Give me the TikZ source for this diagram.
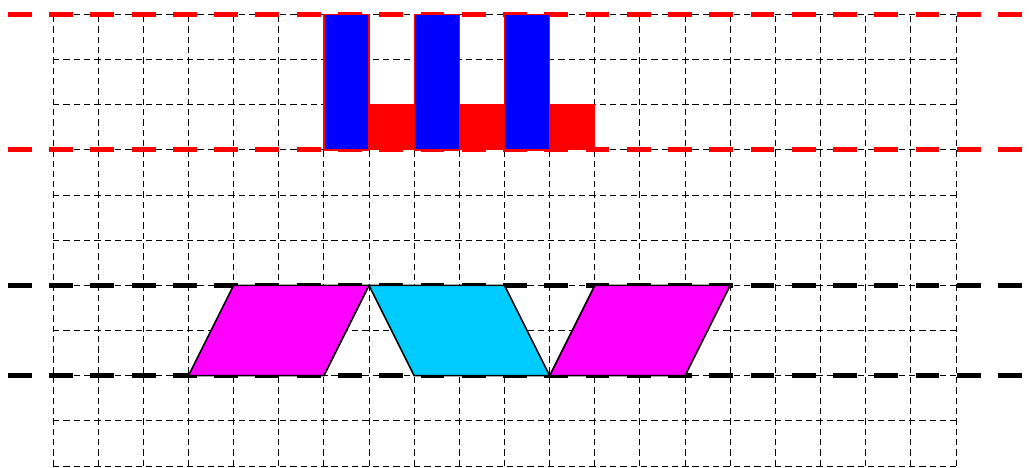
\documentclass[tikz,border=0pt]{standalone}
\definecolor{cyanish}{RGB}{0,204,255}
\definecolor{puremagenta}{RGB}{255,0,255}
\tikzset{
  gridline/.style={black, line width=0.6pt, dash pattern=on 4pt off 2.5pt},
  redline/.style={red, line width=3.2pt, dash pattern=on 15pt off 11pt, dash phase=-5pt},
  blackline/.style={black, line width=3.2pt, dash pattern=on 15pt off 11pt, dash phase=-5pt},
  bluebar/.style={fill=blue, draw=red, line width=0.8pt},
  redbar/.style={fill=red, draw=red, line width=0.6pt},
  para/.style={draw=black, line width=1pt, line join=miter}
}
\begin{document}
\begin{tikzpicture}
\useasboundingbox (-1.174,-0.044) rectangle (21.728,10.321);
% grid
\foreach \x in {0,...,20} \draw[gridline] (\x,0) -- (\x,10);
\foreach \y in {0,...,10} \draw[gridline] (0,\y) -- (20,\y);
% thick dashed lines
\coordinate (rl1) at (-1.174,10); \coordinate (rr1) at (21.728,10);
\coordinate (rl2) at (-1.174,7);  \coordinate (rr2) at (21.728,7);
\coordinate (bl1) at (-1.174,4);  \coordinate (br1) at (21.728,4);
\coordinate (bl2) at (-1.174,2);  \coordinate (br2) at (21.728,2);
\draw[redline] (rl1) -- (rr1);
\draw[redline] (rl2) -- (rr2);
\draw[blackline] (bl1) -- (br1);
\draw[blackline] (bl2) -- (br2);
% bars
\foreach \x in {6,8,10} {
  \draw[bluebar] (\x,7) rectangle (\x+1,10);
  \draw[redbar] (\x+1,7) rectangle (\x+2,8);
}
% parallelograms
\draw[para, fill=puremagenta] (3,2) -- (6,2) -- (7,4) -- (4,4) -- cycle;
\draw[para, fill=cyanish] (7,4) -- (10,4) -- (11,2) -- (8,2) -- cycle;
\draw[para, fill=puremagenta] (11,2) -- (14,2) -- (15,4) -- (12,4) -- cycle;
\end{tikzpicture}
\end{document}
